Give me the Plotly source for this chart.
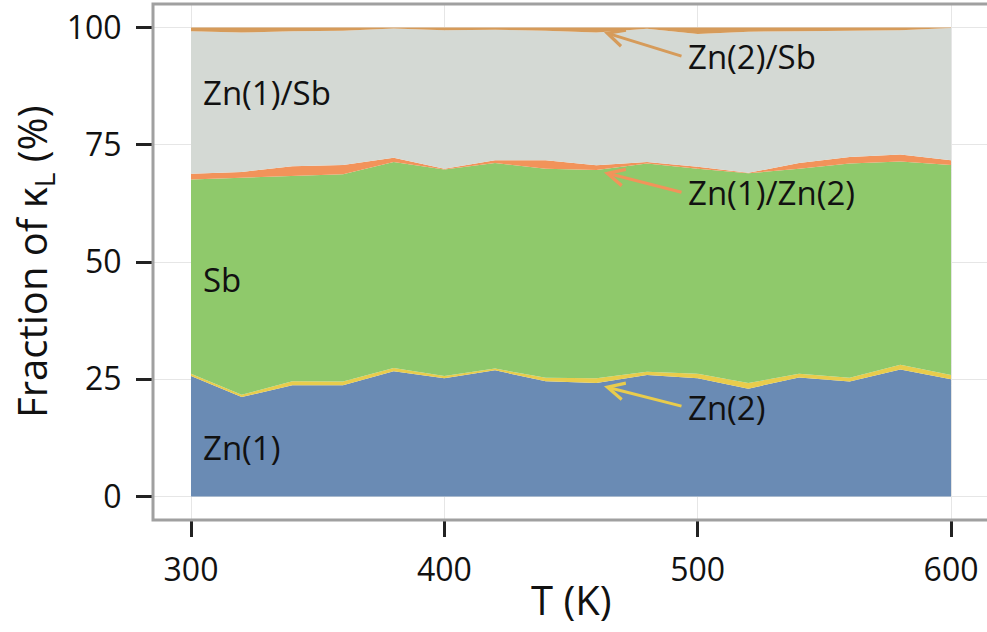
import plotly.graph_objects as go

T = [300, 320, 340, 360, 380, 400, 420, 440, 460, 480, 500, 520, 540, 560, 580, 600]

zn1 = [25.7, 21.2, 23.7, 23.7, 26.7, 25.2, 26.9, 24.6, 24.2, 25.9, 25.2, 23.0, 25.4, 24.5, 27.1, 25.0]
zn2 = [0.5, 0.5, 0.9, 0.8, 0.7, 0.5, 0.4, 0.7, 1.0, 0.7, 1.0, 1.2, 0.8, 0.8, 1.0, 0.9]
sb = [41.4, 46.3, 43.8, 44.2, 43.9, 44.0, 43.8, 44.6, 44.4, 44.4, 43.7, 44.7, 43.7, 45.7, 43.3, 44.8]
zn1_zn2 = [1.2, 1.2, 2.0, 2.0, 0.9, 0.2, 0.6, 1.8, 1.0, 0.3, 0.4, 0.1, 1.2, 1.4, 1.5, 1.0]
zn1_sb = [30.4, 29.7, 28.8, 28.6, 27.6, 29.5, 27.8, 27.6, 28.3, 28.4, 28.3, 30.1, 28.1, 26.9, 26.5, 28.2]
zn2_sb = [0.8, 1.1, 0.8, 0.7, 0.2, 0.6, 0.5, 0.7, 1.1, 0.3, 1.4, 0.9, 0.8, 0.7, 0.6, 0.1]

series = [
    ("Zn(1)", zn1, "#6a8bb4"),
    ("Zn(2)", zn2, "#e9cc4c"),
    ("Sb", sb, "#8fc96b"),
    ("Zn(1)/Zn(2)", zn1_zn2, "#f2935a"),
    ("Zn(1)/Sb", zn1_sb, "#d4d9d4"),
    ("Zn(2)/Sb", zn2_sb, "#d69b5a"),
]

x_ticks = [300, 400, 500, 600]
y_ticks = [0, 25, 50, 75, 100]

FONT = "Open Sans"

fig = go.Figure()
for name, vals, col in series:
    fig.add_trace(go.Scatter(
        x=T, y=vals, name=name, mode="lines", stackgroup="one",
        line=dict(width=0, color=col), fillcolor=col, hoverinfo="skip",
    ))

# in-plot labels
labels = [
    ("Zn(1)/Sb", 303.8, 86.1),
    ("Sb", 303.8, 46.3),
    ("Zn(1)", 303.8, 10.4),
    ("Zn(2)/Sb", 495.3, 93.8),
    ("Zn(1)/Zn(2)", 495.3, 64.8),
    ("Zn(2)", 495.3, 19.0),
]
for txt, xx, yy in labels:
    fig.add_annotation(x=xx, y=yy, text=txt, showarrow=False, xanchor="left",
                       yanchor="middle", font=dict(family=FONT, size=33, color="#111"))

# arrows (tail -> tip)
arrows = [
    (494.2, 93.8, 463.0, 99.0, "#d69b5a"),
    (494.2, 64.8, 463.0, 69.1, "#f2935a"),
    (494.2, 19.2, 463.0, 23.5, "#e9cc4c"),
]
for x0, y0, x1, y1, col in arrows:
    fig.add_annotation(x=x1, y=y1, ax=x0, ay=y0, axref="x", ayref="y", text="",
                       showarrow=True, arrowhead=5, arrowsize=1.1, arrowwidth=3,
                       arrowcolor=col)

# axis titles
fig.add_annotation(x=0.502, y=-0.155, xref="paper", yref="paper", text="T (K)",
                   showarrow=False, xanchor="center", yanchor="middle",
                   font=dict(family=FONT, size=40, color="#111"))
fig.add_annotation(x=-0.144, y=0.50, xref="paper", yref="paper",
                   text="Fraction of κ<sub>L</sub> (%)", textangle=-90,
                   showarrow=False, xanchor="center", yanchor="middle",
                   font=dict(family=FONT, size=40, color="#111"))

# frame
fig.add_shape(type="rect", xref="paper", yref="paper", x0=0, x1=1.05, y0=0, y1=1,
              line=dict(color="#a0a0a0", width=3), layer="above")

fig.update_layout(
    width=987, height=632,
    margin=dict(l=153, r=0, t=4, b=112),
    paper_bgcolor="white", plot_bgcolor="white",
    showlegend=False,
    font=dict(family=FONT, size=32, color="#111"),
    xaxis=dict(range=[285, 614.2], tickvals=x_ticks, ticktext=[str(v) for v in x_ticks],
               showgrid=True, gridcolor="#e6e6e6", gridwidth=1, zeroline=False,
               ticks="outside", ticklen=16, tickwidth=3, tickcolor="#222",
               ticklabelstandoff=6,
               tickfont=dict(family=FONT, size=32, color="#111"), showline=False),
    yaxis=dict(range=[-5, 105], tickvals=y_ticks, ticktext=[str(v) for v in y_ticks],
               showgrid=True, gridcolor="#e6e6e6", gridwidth=1, zeroline=False,
               ticks="outside", ticklen=16, tickwidth=3, tickcolor="#222",
               ticklabelstandoff=8,
               tickfont=dict(family=FONT, size=32, color="#111"), showline=False),
)

fig.write_html("out.html", config={"displayModeBar": False},
               post_script="document.body.style.margin='0px';")
